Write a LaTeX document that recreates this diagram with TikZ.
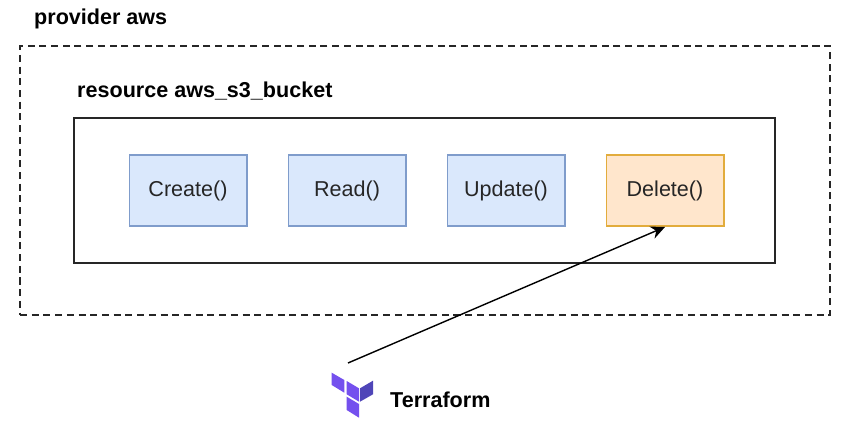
\documentclass[tikz,border=0pt]{standalone}
\usepackage{fontspec}
\setmainfont{Liberation Sans}
\usepackage{xcolor}
\usetikzlibrary{arrows.meta, positioning}
\definecolor{tfpurple}{HTML}{7450EE}
\definecolor{tfdark}{HTML}{4F45B8}
\definecolor{methodline}{HTML}{7F9CCB}
\definecolor{methodfill}{HTML}{DAE8FC}
\definecolor{deleteline}{HTML}{E2AC3C}
\definecolor{deletefill}{HTML}{FFE6CC}
\tikzstyle{method} = [rectangle, minimum width=3.51cm, minimum height=2.13cm, text centered, draw=methodline, fill=methodfill, line width=1.7pt, text=black!85, font=\fontsize{18.4}{21}\selectfont]
\tikzstyle{deleted} = [method, draw=deleteline, fill=deletefill]
\tikzstyle{heading} = [font=\fontsize{18.4}{21}\selectfont\bfseries, inner sep=0pt, anchor=west]
\tikzstyle{arrow} = [line width=1.2pt,-{Stealth[length=12pt,width=11pt]}]

\begin{document}
\begin{tikzpicture}[x=0.03cm, y=-0.03cm, node distance=1.2cm]
\useasboundingbox (0,0) rectangle (850,428);
% Frames
\node (provider) [draw=black!85, dash pattern=on 6pt off 4pt, line width=1pt, minimum width=24.3cm, minimum height=8.07cm] at (425,180.5) {};
\node (bucket) [draw=black!85, line width=1.1pt, minimum width=21.03cm, minimum height=4.35cm] at (424.5,190.5) {};
\node (providerlabel) [heading] at (34,19) {provider aws};
\node (bucketlabel) [heading] at (77,91) {resource aws\_s3\_bucket};

% Methods
\node (create) [method] at (188,190.5) {Create()};
\node (read) [method, right=of create] {Read()};
\node (update) [method, right=of read] {Update()};
\node (delete) [deleted, right=of update] {Delete()};

% Logo
\fill [tfpurple] (331.7,372.7) -- (344.3,380) -- (344.3,392.7) -- (331.7,385) -- cycle;
\fill [tfpurple] (346.7,381) -- (359,388.3) -- (359,401.7) -- (346.7,394.3) -- cycle;
\fill [tfdark] (360,388.3) -- (373,380.7) -- (373,394.3) -- (360,401.7) -- cycle;
\fill [tfpurple] (346.7,396.7) -- (359,404) -- (359,417.7) -- (346.7,410) -- cycle;
\node (terraform) [heading] at (390,400) {Terraform};

% Call
\coordinate (caller) at (348,363);
\draw [arrow] (caller) -- (delete.south);
\end{tikzpicture}
\end{document}
